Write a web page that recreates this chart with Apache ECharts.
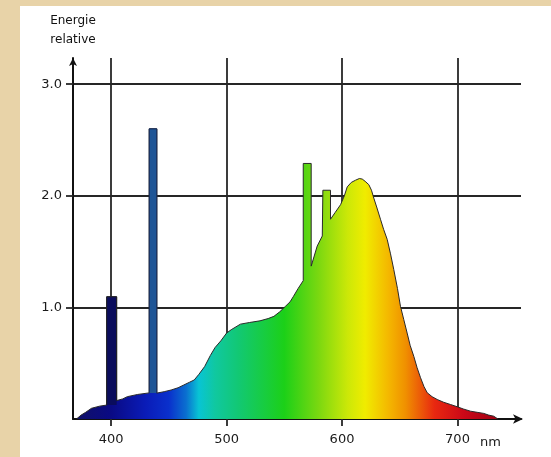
<!DOCTYPE html>
<html>
<head>
<meta charset="utf-8">
<script src="https://cdn.jsdelivr.net/npm/echarts@6/dist/echarts.min.js"></script>
<style>
  html, body { margin: 0; padding: 0; background: #e8d3a8; }
  #chart { width: 551px; height: 457px; }
</style>
</head>
<body>
<div id="chart"></div>
<script>
// Spectrum (wavelength nm, relative energy)
const wavelengths = [370, 374, 378, 383, 390, 396.2, 396.2, 404.8, 404.8, 410, 414, 423, 433, 433, 439.6, 439.6,
  446, 452, 458, 463, 468, 472, 476, 481, 486, 490, 495, 500, 504, 512, 520, 529, 536, 541, 546, 551, 555, 558,
  562, 566.4, 566.4, 573.3, 573.3, 578.5, 582.9, 583.4, 583.4, 590, 590, 594, 598.7, 602, 604.5, 608, 611.7, 615,
  617.5, 620, 623.2, 625.5, 627.5, 630, 633.3, 636, 639.1, 642, 644.8, 648, 650.6, 653.5, 656.4, 659, 662.2, 665,
  668, 671, 673.8, 678, 682.4, 688, 693.9, 699.7, 705, 711.3, 717, 722.8, 727, 731.4, 735];
const energies = [0, 0.035, 0.06, 0.096, 0.115, 0.125, 1.095, 1.095, 0.165, 0.18, 0.2, 0.22, 0.234, 2.60, 2.60, 0.232,
  0.245, 0.26, 0.28, 0.305, 0.33, 0.35, 0.40, 0.47, 0.57, 0.64, 0.70, 0.77, 0.80, 0.85, 0.865, 0.88, 0.9, 0.92, 0.96, 1.01, 1.05, 1.10,
  1.17, 1.24, 2.29, 2.29, 1.37, 1.55, 1.64, 1.65, 2.05, 2.05, 1.79, 1.85, 1.92, 2.0, 2.08, 2.12, 2.14, 2.155,
  2.15, 2.13, 2.10, 2.05, 1.98, 1.90, 1.79, 1.70, 1.61, 1.48, 1.34, 1.17, 1.01, 0.89, 0.77, 0.66, 0.56, 0.46,
  0.37, 0.29, 0.235, 0.20, 0.175, 0.15, 0.13, 0.11, 0.09, 0.07, 0.06, 0.05, 0.035, 0.025, 0];

// Mercury lines drawn with their own colours
const spike400 = [[396.2, 0.125], [396.2, 1.095], [404.8, 1.095], [404.8, 0.165]];
const spike435 = [[433, 0.234], [433, 2.60], [439.6, 2.60], [439.6, 0.232]];

// Colour stops of the spectrum (nm, colour)
const colorStopNm = [370, 400, 430, 450, 465, 476, 490, 510, 550, 580, 605, 620, 640, 655, 680, 705, 735];
const colorStopCol = ['#101068', '#0a0a84', '#0a1cb8', '#0a30cc', '#0a70d0', '#08c4d4', '#10c8a0', '#12c874',
  '#1cd018', '#7cd810', '#cce808', '#f0ec00', '#f4b800', '#f09000', '#e82810', '#cc0818', '#a00012'];

const xTicks = [400, 500, 600, 700];
const yTicks = [1, 2, 3];

const nmMin = Math.min(...wavelengths), nmMax = Math.max(...wavelengths);
const gradStops = colorStopNm.map((nm, i) => ({ offset: Math.max(0, Math.min(1, (nm - nmMin) / (nmMax - nmMin))), color: colorStopCol[i] }));

const chart = echarts.init(document.getElementById('chart'));
const axisCol = '#111';
const gridCol = '#262626';
chart.setOption({
  backgroundColor: 'transparent',
  animation: false,
  graphic: [{
    type: 'rect', z: -10, silent: true,
    shape: { x: 20, y: 6, width: 540, height: 460 },
    style: { fill: '#ffffff' }
  }, {
    type: 'text', left: 480, top: 436,
    style: { text: 'nm', font: '13px "DejaVu Sans"', fill: '#1a1a1a' }
  }],
  grid: { left: 73, top: 58, right: 30, bottom: 38 },
  xAxis: {
    type: 'value', min: 367, max: 755,
    axisLine: { show: true, lineStyle: { color: axisCol, width: 2 }, symbol: ['none', 'arrow'], symbolSize: [7, 10], symbolOffset: [0, 2] },
    axisTick: { show: true, customValues: xTicks, length: 7, lineStyle: { color: gridCol, width: 1.8 } },
    axisLabel: { customValues: xTicks, margin: 14, color: '#1a1a1a', fontSize: 13, fontFamily: 'DejaVu Sans' },
    splitLine: { show: true, lineStyle: { color: gridCol, width: 1.8 } }
  },
  yAxis: {
    type: 'value', min: 0, max: 3.235,
    name: 'Energie\nrelative', nameLocation: 'end', nameGap: 9,
    nameTextStyle: { color: '#111', fontSize: 12, fontFamily: 'DejaVu Sans', lineHeight: 19, align: 'center', verticalAlign: 'bottom' },
    axisLine: { show: true, lineStyle: { color: axisCol, width: 2 }, symbol: ['none', 'arrow'], symbolSize: [6, 8] },
    axisTick: { show: true, customValues: yTicks, length: 7, lineStyle: { color: gridCol, width: 1.8 } },
    axisLabel: { customValues: yTicks, margin: 11, color: '#1a1a1a', fontSize: 13, fontFamily: 'DejaVu Sans', formatter: v => v.toFixed(1) },
    splitLine: { show: true, lineStyle: { color: gridCol, width: 1.8 } }
  },
  series: [{
    type: 'line',
    data: wavelengths.map((w, i) => [w, energies[i]]),
    showSymbol: false, smooth: false, z: 3,
    lineStyle: { color: '#2a2a2a', width: 1 },
    areaStyle: { opacity: 1, color: new echarts.graphic.LinearGradient(0, 0, 1, 0, gradStops) }
  }, {
    type: 'line', data: spike400, showSymbol: false, z: 4,
    lineStyle: { color: '#222', width: 1 },
    areaStyle: { opacity: 1, color: '#0a0c5c', origin: 0.125 }
  }, {
    type: 'line', data: spike435, showSymbol: false, z: 4,
    lineStyle: { color: '#1a2a50', width: 1 },
    areaStyle: { opacity: 1, color: '#1e5596', origin: 0.232 }
  }]
});
</script>
</body>
</html>
